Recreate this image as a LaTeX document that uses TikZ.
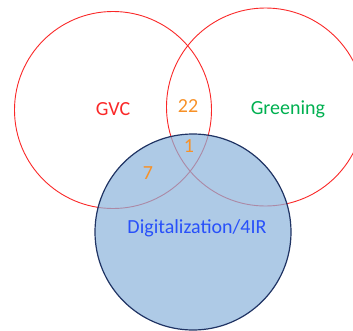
\documentclass[tikz,border=0pt]{standalone}
\usepackage{fontspec}
\setmainfont{Carlito}
\definecolor{vred}{RGB}{250,40,40}
\definecolor{vgreen}{RGB}{0,176,80}
\definecolor{vorange}{RGB}{247,145,40}
\definecolor{vblue}{RGB}{40,80,250}
\definecolor{vfill}{RGB}{139,179,219}
\definecolor{vnavy}{RGB}{32,52,100}
\begin{document}
\begin{tikzpicture}[x=1bp,y=-1bp,
  setcircle/.style={draw=vred,line width=0.9bp},
  label/.style={font=\fontsize{20bp}{24bp}\selectfont,inner sep=0pt}]
\useasboundingbox (0,0) rectangle (353,331);
\begin{scope}
\clip (0,0) rectangle (353,331);
\draw[setcircle] (113,110) circle[radius=98.5];
\draw[setcircle] (265.5,107) circle[radius=99];
\fill[vfill,fill opacity=0.7] (193,232) circle[radius=98];
\draw[vnavy,line width=1.2bp] (193,232) circle[radius=98];
\end{scope}
\node[label,text=vred] (gvc) at (113,109) {GVC};
\node[label,text=vorange] (n22) at (188,106) {22};
\node[label,text=vgreen] (green) at (288,109) {Greening};
\node[label,text=vorange] (n1) at (189,146) {1};
\node[label,text=vorange] (n7) at (148,173) {7};
\node[label,text=vblue] (dig) at (197,228) {Digitalization/4IR};
\end{tikzpicture}
\end{document}
